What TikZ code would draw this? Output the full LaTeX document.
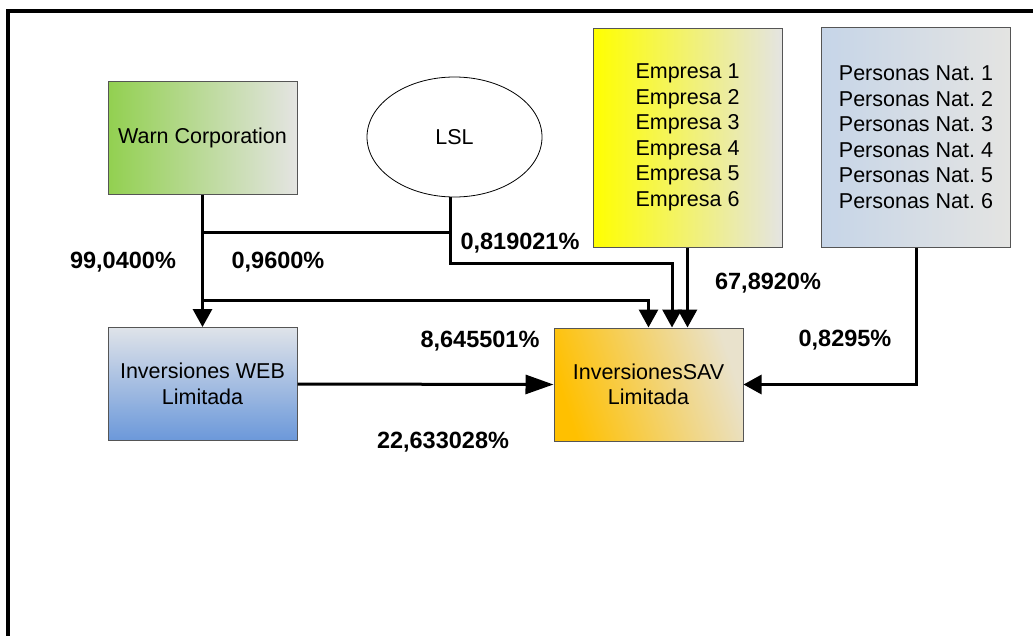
\documentclass[tikz,border=0pt]{standalone}
\usepackage{fontspec}
\setmainfont{Liberation Sans}
\usetikzlibrary{arrows.meta, shapes.geometric}

\definecolor{warngreen}{HTML}{92D050}
\definecolor{paleside}{HTML}{E4E4E2}
\definecolor{empyellow}{HTML}{FFFF00}
\definecolor{natblue}{HTML}{C6D5E8}
\definecolor{webtop}{HTML}{DFE3E9}
\definecolor{webblue}{HTML}{6B98DA}
\definecolor{savorange}{HTML}{FFC000}
\definecolor{savlight}{HTML}{E9E2CC}
\definecolor{edgegrey}{HTML}{555555}

\tikzset{
  boxnode/.style = {draw = edgegrey, line width = 1pt, minimum width = 189pt,
    minimum height = 113pt, inner sep = 0pt, align = center,
    font = \fontsize{21.5}{25.5}\selectfont},
  pct/.style = {font = \fontsize{23.5}{28}\selectfont\bfseries},
  link/.style = {line width = 3pt},
  arr/.style = {link, -{Triangle[length = 18pt, width = 19pt]}}
}

\begin{document}
\begin{tikzpicture}[x = 1pt, y = -1pt]
            \useasboundingbox (0,0) rectangle (1033,635);
            \begin{scope}
            \clip (0,0) rectangle (1033,635);
            \draw [line width = 3.5pt] (8,11) rectangle (1060,660);
            \end{scope}

            \node [boxnode, left color = warngreen, right color = paleside]
            (warn) at (202.5,137.5) {Warn Corporation};
            \node [draw = black, line width = 0.8pt, ellipse, minimum width = 175pt,
            minimum height = 120pt, font = \fontsize{21.5}{25.5}\selectfont]
            (lsl) at (454.5,137) {LSL};
            \node [boxnode, minimum height = 219pt, left color = empyellow, right color = paleside]
            (emp) at (687.5,137.5) {Empresa 1\\Empresa 2\\Empresa 3\\Empresa 4\\Empresa 5\\Empresa 6};
            \node [boxnode, minimum height = 220pt, left color = natblue, right color = paleside]
            (nat) at (916,137) {Personas Nat.\ 1\\Personas Nat.\ 2\\Personas Nat.\ 3\\Personas Nat.\ 4\\Personas Nat.\ 5\\Personas Nat.\ 6};
            \node [boxnode, top color = savlight, bottom color = savorange, shading angle = -72]
            (sav) at (648.5,384.5) {InversionesSAV\\Limitada};
            \node [boxnode, top color = webtop, bottom color = webblue]
            (web) at (202.5,384) {Inversiones WEB\\Limitada};

            \coordinate (lslfoot) at ([xshift = -4pt]lsl.south);

            \draw [arr] (warn.south) -- (web.north);
            \draw [link] (warn.south |- 0,232) -- (lslfoot |- 0,232);
            \draw [arr] (lslfoot) -- (lslfoot |- 0,263) -| ([xshift = 23.5pt]sav.north);
            \draw [arr] (warn.south |- 0,300) -| (sav.north);
            \draw [arr] (emp.south) -- (emp.south |- sav.north);
            \draw [arr] (nat.south) |- (sav.east);
            \draw [link, -{Triangle[length = 28pt, width = 19pt]}] (web.east) -- (sav.west);

            \node [pct] (pwarn) at (123,262) {99,0400\%};
            \node [pct] (plslweb) at (278,262) {0,9600\%};
            \node [pct] (plsl) at (520,243) {0,819021\%};
            \node [pct] (pemp) at (768,283) {67,8920\%};
            \node [pct] (pwarnsav) at (480,341) {8,645501\%};
            \node [pct] (pweb) at (443,442) {22,633028\%};
            \node [pct] (pnat) at (845,340) {0,8295\%};
\end{tikzpicture}
\end{document}
